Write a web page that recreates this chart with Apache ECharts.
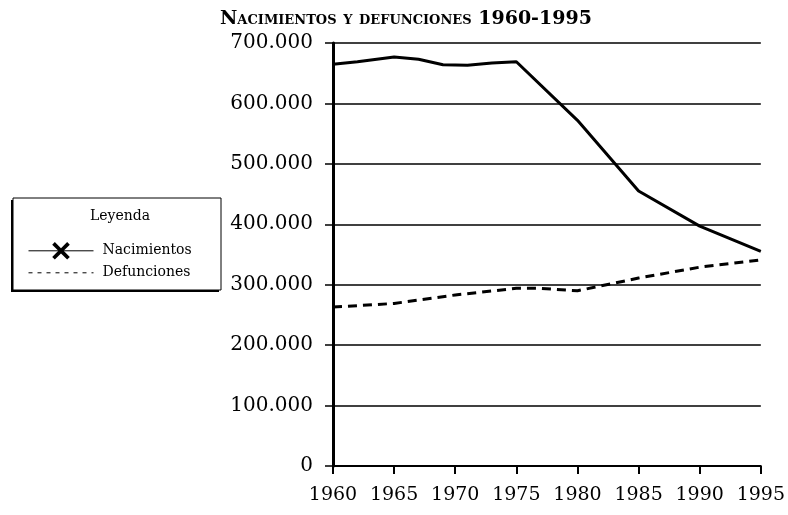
<!DOCTYPE html>
<html>
<head>
<meta charset="utf-8">
<script src="https://cdn.jsdelivr.net/npm/echarts@6/dist/echarts.min.js"></script>
<style>
  html, body { margin: 0; padding: 0; background: #fff; }
  #chart { width: 788px; height: 515px; }
</style>
</head>
<body>
<div id="chart"></div>
<script>
// ---- data ----
const titleText = 'Nacimientos y defunciones 1960-1995';
const legendTitle = 'Leyenda';
const seriesNames = ['Nacimientos', 'Defunciones'];
const xTicks = [1960, 1965, 1970, 1975, 1980, 1985, 1990, 1995];

const nacYears = [1960, 1962, 1965, 1967, 1969, 1971, 1973, 1975, 1980, 1985, 1990, 1995];
const nacValues = [665000, 669000, 677000, 673000, 664000, 663000, 667000, 669000, 572000, 455000, 397000, 355000];

const defYears = [1960, 1965, 1970, 1975, 1977, 1980, 1985, 1990, 1995];
const defValues = [263000, 269000, 283000, 294000, 294000, 290000, 311000, 329000, 341000];

const yTickValues = [0, 100000, 200000, 300000, 400000, 500000, 600000, 700000];

const FONT = 'DejaVu Serif';
const xPath = 'path://M0,3 L3,0 L10,7 L17,0 L20,3 L13,10 L20,17 L17,20 L10,13 L3,20 L0,17 L7,10 Z';

function pair(xs, ys) { return xs.map((x, i) => [x, ys[i]]); }
function fmtThousands(v) {
  return String(Math.round(v)).replace(/\B(?=(\d{3})+(?!\d))/g, '.');
}

const chart = echarts.init(document.getElementById('chart'), null, { renderer: 'canvas' });
chart.setOption({
  backgroundColor: '#fff',
  animation: false,
  title: {
    text: titleText,
    left: 215,
    top: 5,
    textStyle: { fontFamily: FONT, fontStyle: 'small-caps', fontWeight: 'bold', fontSize: 19, color: '#000' }
  },
  grid: { left: 333, right: 18, top: 43, bottom: 49, containLabel: false },
  xAxis: {
    type: 'value',
    min: xTicks[0],
    max: xTicks[xTicks.length - 1],
    interval: 5,
    axisLine: { lineStyle: { color: '#000', width: 2 } },
    axisTick: { show: true, length: 8, lineStyle: { color: '#000', width: 2 } },
    axisLabel: { color: '#000', fontFamily: FONT, fontSize: 19, margin: 20, formatter: v => String(v) },
    splitLine: { show: false }
  },
  yAxis: {
    type: 'value',
    min: yTickValues[0],
    max: yTickValues[yTickValues.length - 1],
    interval: 100000,
    axisLine: { show: true, lineStyle: { color: '#000', width: 3 } },
    axisTick: { show: true, length: 8, lineStyle: { color: '#000', width: 1.5 } },
    axisLabel: { color: '#000', fontFamily: FONT, fontSize: 20, margin: 20, formatter: v => fmtThousands(v) },
    splitLine: { show: true, lineStyle: { color: '#000', width: 1.5 } }
  },
  legend: {
    orient: 'vertical',
    left: 13,
    top: 198,
    padding: [44, 29, 6, 15],
    itemWidth: 65,
    itemHeight: 22,
    itemGap: 4.4,
    backgroundColor: 'transparent',
    borderWidth: 0,
    z: 10,
    lineStyle: { width: 1 },
    textStyle: { color: '#000', fontFamily: FONT, fontSize: 14, padding: [0, 0, 0, 4] },
    data: [
      { name: seriesNames[0] },
      { name: seriesNames[1], itemStyle: { opacity: 0 }, lineStyle: { type: [4, 5], width: 1 } }
    ]
  },
  graphic: [
    {
      type: 'rect',
      z: 1,
      shape: { x: 11, y: 200, width: 208, height: 92 },
      style: { fill: '#000' }
    },
    {
      type: 'rect',
      z: 2,
      shape: { x: 13, y: 198, width: 208, height: 92 },
      style: { fill: '#fff', stroke: '#000', lineWidth: 1 }
    },
    {
      type: 'text',
      left: 90,
      top: 209,
      z: 20,
      style: { text: legendTitle, fill: '#000', font: '14px "DejaVu Serif"' }
    }
  ],
  series: [
    {
      name: seriesNames[0],
      type: 'line',
      data: pair(nacYears, nacValues),
      showSymbol: false,
      symbol: xPath,
      itemStyle: { color: '#000' },
      lineStyle: { color: '#000', width: 3, type: 'solid' },
      z: 5
    },
    {
      name: seriesNames[1],
      type: 'line',
      data: pair(defYears, defValues),
      showSymbol: false,
      symbol: 'circle',
      itemStyle: { color: '#000' },
      lineStyle: { color: '#000', width: 3, type: [9, 6] },
      z: 5
    }
  ]
});
</script>
</body>
</html>
